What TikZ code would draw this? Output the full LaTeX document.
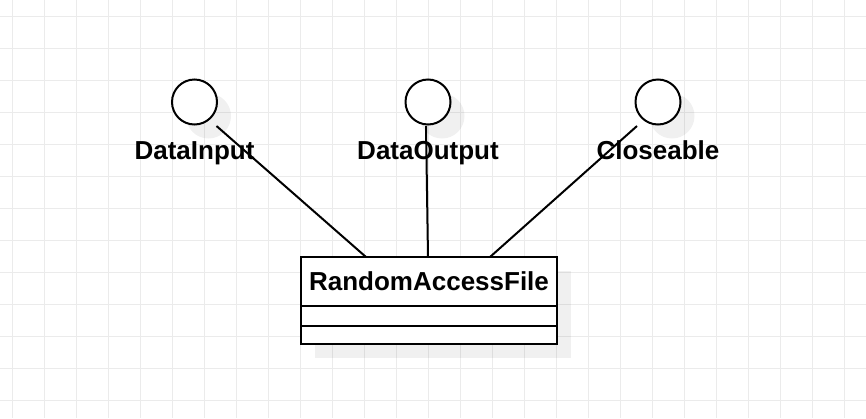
\documentclass[tikz,border=0pt]{standalone}
\usepackage{fontspec}
\setmainfont{Liberation Sans}
\usetikzlibrary{calc,positioning,shadows}

\begin{document}
\begin{tikzpicture}[x=1pt,y=-1pt,
  gridline/.style={draw=black!8,line width=1pt},
  umlshadow/.style={drop shadow={shadow xshift=14pt,shadow yshift=-14pt,fill=black,opacity=0.06}},
  iface/.style={draw,circle,line width=2pt,fill=white,minimum size=45pt,inner sep=0pt,umlshadow},
  ilabel/.style={font=\fontsize{26}{30}\selectfont\bfseries,inner sep=0pt,anchor=base},
  part/.style={draw,rectangle,line width=2pt,fill=white,minimum width=256pt,inner sep=0pt,outer sep=0pt,umlshadow},
  conn/.style={draw,line width=2pt}]
\useasboundingbox (0,0) rectangle (866,418);
% background grid
\foreach \gx in {0,...,26}
  \draw[gridline] (12.3+32*\gx,0) -- (12.3+32*\gx,418);
\foreach \gy in {0,...,12}
  \draw[gridline] (0,16+32*\gy) -- (866,16+32*\gy);
% interfaces
\node[iface] (iin) at (194.5,102) {};
\node[iface] (iout) at (428,102) {};
\node[iface] (iclo) at (658,102) {};
\node[ilabel] (lin) at ($(iin.center)+(0,57.5)$) {DataInput};
\node[ilabel] (lout) at ($(iout.center)+(0,57.5)$) {DataOutput};
\node[ilabel] (lclo) at ($(iclo.center)+(0,57.5)$) {Closeable};
% class
\node[part,minimum height=49pt,font=\fontsize{26}{30}\selectfont\bfseries] (rafname) at (429,281.5) {RandomAccessFile};
\node[part,minimum height=20pt,below=0pt of rafname] (rafattr) {};
\node[part,minimum height=17.5pt,below=0pt of rafattr] (rafops) {};
% realisations
\draw[conn] ($(iin.center)+(22,24)$) -- ($(rafname.north west)+(65,0)$);
\draw[conn] ($(iout.center)+(-2,24)$) -- ($(rafname.north west)+(127,0)$);
\draw[conn] ($(iclo.center)+(-21,24)$) -- ($(rafname.north west)+(189,0)$);
\end{tikzpicture}
\end{document}
